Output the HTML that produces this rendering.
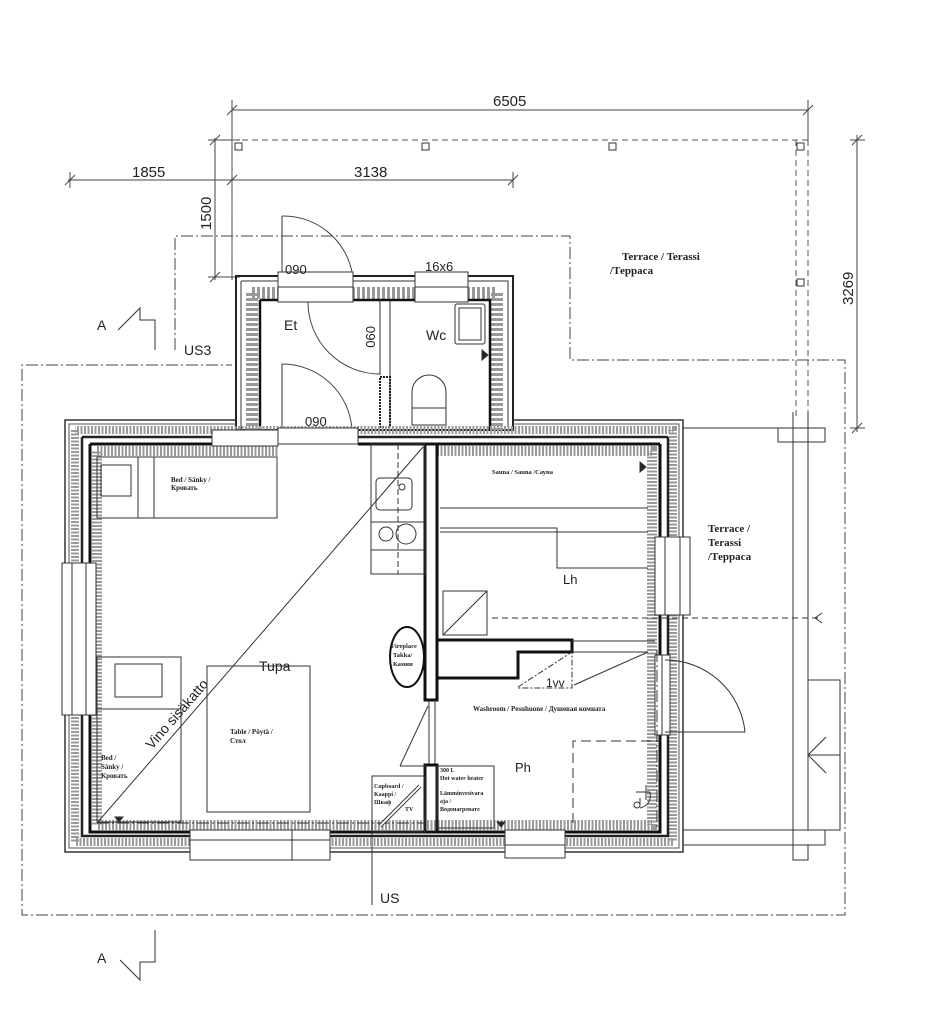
<!DOCTYPE html>
<html><head><meta charset="utf-8"><style>
html,body{margin:0;padding:0;background:#fff}
svg{display:block}
text{font-family:"Liberation Sans",sans-serif;fill:#222}
.s{font-family:"Liberation Serif",serif;font-weight:bold;fill:#222}
</style></head><body>
<svg width="951" height="1024" viewBox="0 0 951 1024" xmlns="http://www.w3.org/2000/svg" fill="none" stroke="#333" stroke-width="1">
<g stroke="#444">
<line x1="232" y1="110" x2="808" y2="110"/><line x1="232" y1="100" x2="232" y2="280"/><line x1="808" y1="100" x2="808" y2="140"/>
<line x1="227" y1="115" x2="237" y2="105"/><line x1="803" y1="115" x2="813" y2="105"/>
<line x1="68" y1="180" x2="513" y2="180"/><line x1="70" y1="172" x2="70" y2="188"/><line x1="513" y1="172" x2="513" y2="188"/>
<line x1="65" y1="185" x2="75" y2="175"/><line x1="227" y1="185" x2="237" y2="175"/><line x1="508" y1="185" x2="518" y2="175"/>
<line x1="215" y1="138" x2="215" y2="280"/><line x1="208" y1="140" x2="240" y2="140"/><line x1="208" y1="277" x2="240" y2="277"/>
<line x1="210" y1="145" x2="220" y2="135"/><line x1="210" y1="282" x2="220" y2="272"/>
<line x1="857" y1="135" x2="857" y2="432"/><line x1="850" y1="140" x2="865" y2="140"/><line x1="850" y1="428" x2="865" y2="428"/>
<line x1="852" y1="145" x2="862" y2="135"/><line x1="852" y1="433" x2="862" y2="423"/>
</g>
<text x="493" y="106" font-size="15" fill="#222" stroke="none">6505</text>
<text x="132" y="177" font-size="15" stroke="none">1855</text>
<text x="354" y="177" font-size="15" stroke="none">3138</text>
<text transform="translate(211,230) rotate(-90)" font-size="15" stroke="none">1500</text>
<text transform="translate(853,305) rotate(-90)" font-size="15" stroke="none">3269</text>
<g stroke="#555" stroke-dasharray="6,4">
<line x1="232" y1="140" x2="808" y2="140"/><line x1="808" y1="140" x2="808" y2="420"/>
<line x1="232" y1="140" x2="232" y2="275"/><line x1="796" y1="140" x2="796" y2="420"/>
</g>
<g stroke="#333"><rect x="235" y="143" width="7" height="7"/><rect x="422" y="143" width="7" height="7"/><rect x="609" y="143" width="7" height="7"/><rect x="797" y="143" width="7" height="7"/><rect x="797" y="279" width="7" height="7"/></g>
<g stroke="#444" stroke-dasharray="12,3,2,3">
<polyline points="175,350 175,236 570,236 570,360 845,360 845,915 22,915 22,365 232,365"/>
</g>
<text x="622" y="260" class="s" font-size="11" stroke="none">Terrace / Terassi</text>
<text x="610" y="274" class="s" font-size="11" stroke="none">/Терраса</text>
<polyline points="118,330 140,308 140,320 155,320 155,350" stroke="#333"/>
<text x="97" y="330" font-size="14" stroke="none">A</text>
<polyline points="120,960 140,980 140,962 155,962 155,930" stroke="#333"/>
<text x="97" y="963" font-size="14" stroke="none">A</text>
<text x="184" y="355" font-size="14" stroke="none">US3</text>
<line x1="372" y1="825" x2="372" y2="905" stroke="#333"/>
<text x="380" y="903" font-size="14" stroke="none">US</text>
<g>
<rect x="236" y="276" width="277" height="154" stroke="#222" stroke-width="2"/>
<path d="M252,293 H497 V430 M252,293 V430" stroke="#999" stroke-width="12" stroke-dasharray="3,2"/>
<path d="M260,300 H490 V430 M260,300 V430" stroke="#111" stroke-width="2.5"/>
<path d="M241,281 H508 V430 M241,281 V430" stroke="#333" stroke-width="1"/>
<rect x="278" y="272" width="75" height="30" fill="#fff" stroke="#333"/>
<rect x="415" y="272" width="53" height="30" fill="#fff" stroke="#333"/>
<line x1="278" y1="287" x2="353" y2="287"/><line x1="415" y1="287" x2="468" y2="287"/>
<line x1="390" y1="300" x2="390" y2="430"/><line x1="380" y1="300" x2="380" y2="375"/>
<rect x="380" y="377" width="10" height="50" stroke="#222" stroke-dasharray="2,1" stroke-width="2"/>
<path d="M308,302 A72,72 0 0 0 380,374" stroke="#444"/>
<path d="M282,364 A70,70 0 0 1 352,430" stroke="#444"/>
<line x1="282" y1="364" x2="282" y2="430"/>
<path d="M282,216 A70,70 0 0 1 352,272" stroke="#444"/><line x1="282" y1="216" x2="282" y2="272"/>
<rect x="455" y="304" width="30" height="40" rx="2"/><rect x="459" y="308" width="22" height="32"/>
<path d="M412,425 V392 A17,17 0 0 1 446,392 V425 Z"/><line x1="412" y1="408" x2="446" y2="408"/>
<polygon points="482,350 482,360 488,355" fill="#222"/>
</g>
<text x="285" y="274" font-size="13" stroke="none">090</text>
<text x="425" y="271" font-size="13" stroke="none">16x6</text>
<text x="284" y="330" font-size="14" stroke="none">Et</text>
<text x="426" y="340" font-size="14" stroke="none">Wc</text>
<text transform="translate(366,326) rotate(90)" font-size="13" stroke="none">090</text>
<text x="305" y="426" font-size="13" stroke="none">090</text>
<g>
<path d="M236,420 H65 V852 H683 V420 H513" stroke="#333" stroke-width="1.5"/>
<path d="M236,424 H69 V848 H679 V424 H513" stroke="#555" stroke-width="1"/>
<path d="M75,430 V842 H673 V430 H75" stroke="#999" stroke-width="8" stroke-dasharray="2,1.5"/>
<path d="M82,437 V836 H668 V437" stroke="#222" stroke-width="2.5"/>
<path d="M82,437 H278 M358,437 H668" stroke="#222" stroke-width="2.5"/>
<path d="M90,444 H278 M437,444 H660 M90,444 V832 H660 V444" stroke="#111" stroke-width="3"/>
<path d="M97,451 H278 M437,451 H652 V825 H97 V451" stroke="#999" stroke-width="10" stroke-dasharray="2,1.5"/>
<line x1="358" y1="444" x2="437" y2="444" stroke="#111" stroke-width="3"/>
</g>
<g fill="#fff" stroke="#333">
<rect x="212" y="430" width="66" height="16"/><rect x="278" y="428" width="80" height="16"/>
<rect x="62" y="563" width="34" height="152"/><line x1="72" y1="563" x2="72" y2="715"/><line x1="86" y1="563" x2="86" y2="715"/>
<rect x="190" y="830" width="140" height="30"/><line x1="190" y1="840" x2="330" y2="840"/><line x1="292" y1="830" x2="292" y2="860"/>
<rect x="505" y="830" width="60" height="28"/><line x1="505" y1="845" x2="565" y2="845"/>
<rect x="655" y="537" width="35" height="78"/><line x1="665" y1="537" x2="665" y2="615"/><line x1="680" y1="537" x2="680" y2="615"/>
<rect x="655" y="655" width="15" height="80"/><line x1="662" y1="655" x2="662" y2="735"/>
</g>
<rect x="425" y="444" width="12" height="256" fill="#fff" stroke="#111" stroke-width="3"/>
<line x1="429" y1="700" x2="429" y2="765"/><line x1="435" y1="700" x2="435" y2="765"/>
<rect x="425" y="765" width="12" height="67" stroke="#111" stroke-width="3"/>
<rect x="371" y="444" width="54" height="130"/>
<rect x="376" y="478" width="36" height="32" rx="4"/><circle cx="402" cy="487" r="3"/>
<line x1="371" y1="522" x2="425" y2="522"/><line x1="371" y1="550" x2="425" y2="550"/>
<circle cx="386" cy="534" r="7"/><circle cx="406" cy="534" r="10"/>
<line x1="398" y1="444" x2="398" y2="574" stroke-dasharray="6,3"/>
<line x1="97" y1="823" x2="423" y2="447"/>
<text transform="translate(152,750) rotate(-49)" font-size="14" stroke="none">Vino sisäkatto</text>
<rect x="97" y="457" width="180" height="61"/><rect x="101" y="465" width="30" height="31"/><rect x="138" y="457" width="16" height="61"/>
<text x="171" y="482" class="s" font-size="7" stroke="none">Bed / Sänky /</text>
<text x="171" y="490" class="s" font-size="7" stroke="none">Кровать</text>
<rect x="97" y="657" width="84" height="165"/><line x1="97" y1="709" x2="181" y2="709"/><rect x="115" y="664" width="47" height="33"/>
<text x="101" y="760" class="s" font-size="7" stroke="none">Bed /</text>
<text x="101" y="769" class="s" font-size="7" stroke="none">Sänky /</text>
<text x="101" y="778" class="s" font-size="7" stroke="none">Кровать</text>
<polygon points="115,817 123,817 119,822" fill="#222"/>
<line x1="97" y1="823" x2="425" y2="823" stroke-dasharray="12,3,2,3"/>
<rect x="207" y="666" width="103" height="146"/>
<text x="259" y="671" font-size="14" stroke="none">Tupa</text>
<text x="230" y="734" class="s" font-size="7" stroke="none">Table / Pöytä /</text>
<text x="230" y="743" class="s" font-size="7" stroke="none">Стол</text>
<ellipse cx="407" cy="657" rx="17" ry="30" stroke="#111" stroke-width="2"/>
<text x="391" y="648" class="s" font-size="6.5" stroke="none">Fireplace</text>
<text x="393" y="657" class="s" font-size="6.5" stroke="none">Takka/</text>
<text x="393" y="666" class="s" font-size="6.5" stroke="none">Камин</text>
<line x1="440" y1="508" x2="648" y2="508"/><line x1="440" y1="532" x2="648" y2="532"/>
<polyline points="440,528 557,528 557,568 648,568"/>
<polygon points="640,462 640,472 646,467" fill="#222"/>
<text x="492" y="474" class="s" font-size="6.5" stroke="none">Sauna / Sauna /Сауна</text>
<text x="563" y="584" font-size="13" stroke="none">Lh</text>
<rect x="443" y="591" width="44" height="44"/><line x1="443" y1="635" x2="487" y2="591"/>
<line x1="492" y1="618" x2="820" y2="618" stroke-dasharray="6,4"/>
<polyline points="822,613 815,618 822,623"/>
<polyline points="437,640 572,640 572,652 518,652 518,678 437,678" stroke="#111" stroke-width="3"/>
<line x1="572" y1="641" x2="655" y2="641"/><line x1="572" y1="652" x2="648" y2="652"/>
<polyline points="518,687 572,652 572,688 518,688" stroke-dasharray="6,2,2,2"/>
<line x1="574" y1="685" x2="648" y2="652"/>
<text x="546" y="687" font-size="12" stroke="none">1vv</text>
<line x1="657" y1="650" x2="657" y2="830" stroke-dasharray="12,3,2,3"/>
<path d="M665,660 A80,80 0 0 1 745,732 H665"/>
<text x="473" y="711" class="s" font-size="7" stroke="none">Washroom / Pesuhuone / Душевая комната</text>
<text x="515" y="772" font-size="13" stroke="none">Ph</text>
<path d="M573,823 V741 H660" stroke-dasharray="10,5"/>
<path d="M646,785 V800 M636,792 H650 M640,798 V805 M650,792 Q652,805 640,808" />
<circle cx="637" cy="805" r="3"/>
<polygon points="497,822 505,822 501,827" fill="#222"/>
<line x1="428" y1="706" x2="400" y2="766"/><line x1="400" y1="766" x2="426" y2="766"/>
<rect x="372" y="776" width="53" height="56"/>
<rect x="437" y="766" width="57" height="62"/>
<line x1="380" y1="826" x2="420" y2="786" stroke-width="4"/><line x1="380" y1="826" x2="420" y2="786" stroke="#fff" stroke-width="2"/>
<text x="374" y="788" class="s" font-size="6" stroke="none">Cupboard /</text>
<text x="374" y="796" class="s" font-size="6" stroke="none">Kaappi /</text>
<text x="374" y="804" class="s" font-size="6" stroke="none">Шкаф</text>
<text x="405" y="811" class="s" font-size="6" stroke="none">TV</text>
<text x="440" y="772" class="s" font-size="6" stroke="none">300 L</text>
<text x="440" y="780" class="s" font-size="6" stroke="none">Hot water heater</text>
<text x="440" y="795" class="s" font-size="6" stroke="none">Lämminvesivara</text>
<text x="440" y="803" class="s" font-size="6" stroke="none">aja /</text>
<text x="440" y="811" class="s" font-size="6" stroke="none">Водонагревате</text>
<text x="708" y="532" class="s" font-size="11" stroke="none">Terrace /</text>
<text x="708" y="546" class="s" font-size="11" stroke="none">Terassi</text>
<text x="708" y="560" class="s" font-size="11" stroke="none">/Терраса</text>
<line x1="683" y1="428" x2="793" y2="428"/>
<rect x="778" y="428" width="47" height="14"/>
<line x1="793" y1="412" x2="793" y2="860"/><line x1="808" y1="412" x2="808" y2="680"/>
<polyline points="808,680 840,680 840,830 808,830 808,680"/>
<line x1="808" y1="755" x2="840" y2="755"/><polyline points="826,737 808,755 826,773"/>
<rect x="683" y="830" width="142" height="15"/>
<rect x="793" y="845" width="15" height="15"/>
</svg>
</body></html>
